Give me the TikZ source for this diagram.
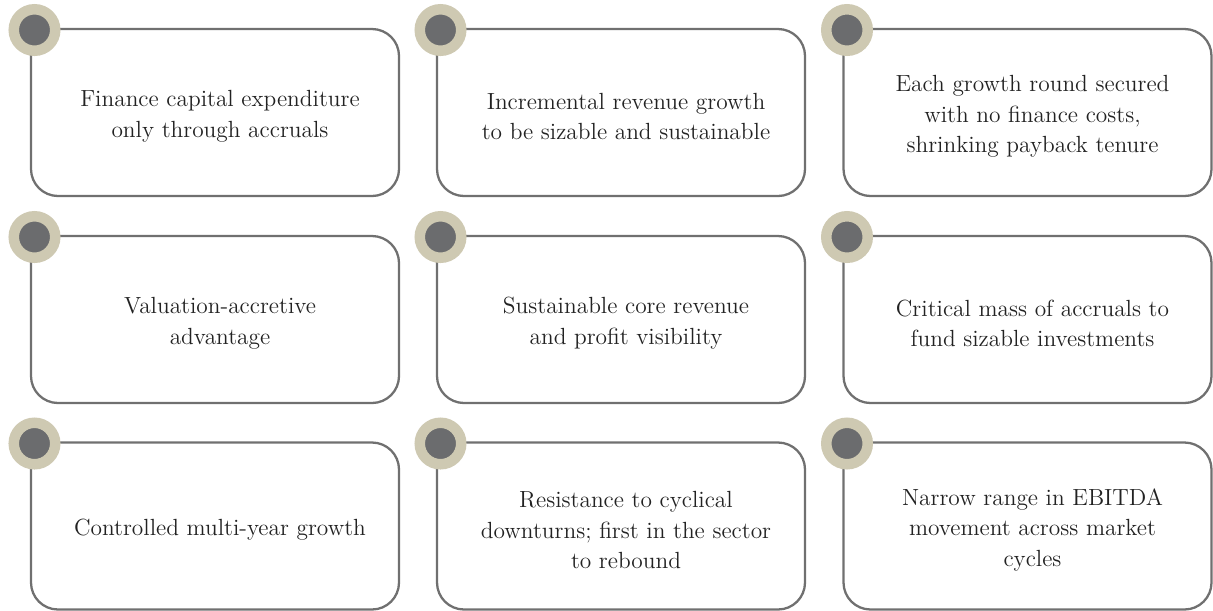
\documentclass[tikz,border=0pt]{standalone}
\usepackage{tikz}
\usetikzlibrary{positioning, calc}
\definecolor{cardedge}{HTML}{707070}
\definecolor{cardbeige}{HTML}{CEC9B2}
\definecolor{carddark}{HTML}{6B6C6E}
\definecolor{cardtext}{HTML}{222222}
\tikzset{
  cardbox/.style={minimum width=7.36cm, minimum height=3.34cm, inner sep=0pt,
    outer sep=0pt, align=center, text=cardtext,
    font=\fontsize{13.3}{17.5}\selectfont},
  cardline/.style={draw=cardedge, line width=1.3pt, rounded corners=0.54cm},
  carddot/.style={circle, fill=carddark, draw=cardbeige, line width=0.21cm,
    minimum size=0.83cm, inner sep=0pt},
}

\begin{document}
\begin{tikzpicture}
  \useasboundingbox (0,0) rectangle (24.26,-12.2);
  % text sits a little right of and below the card centre
  % first row
  \node[cardbox] (c1) at (4.40,-2.33) {Finance capital expenditure\\only through accruals};
  \node[cardbox] (c2) at (12.52,-2.33) {Incremental revenue growth\\to be sizable and sustainable};
  \node[cardbox] (c3) at (20.65,-2.33) {Each growth round secured\\with no finance costs,\\shrinking payback tenure};
  % second row
  \node[cardbox] (c4) at (4.40,-6.47) {Valuation-accretive\\advantage};
  \node[cardbox] (c5) at (12.52,-6.47) {Sustainable core revenue\\and profit visibility};
  \node[cardbox] (c6) at (20.65,-6.47) {Critical mass of accruals to\\fund sizable investments};
  % third row
  \node[cardbox] (c7) at (4.40,-10.60) {Controlled multi-year growth};
  \node[cardbox] (c8) at (12.52,-10.60) {Resistance to cyclical\\downturns; first in the sector\\to rebound};
  \node[cardbox] (c9) at (20.65,-10.60) {Narrow range in EBITDA\\movement across market\\cycles};
  % outlines, square at the top left, and the dots
  \foreach \c in {c1,c2,c3,c4,c5,c6,c7,c8,c9} {
    \draw[cardline] ([shift={(-0.1,0.08)}]\c.north west)
      -- ([shift={(-0.1,0.08)}]\c.north east)
      -- ([shift={(-0.1,0.08)}]\c.south east)
      -- ([shift={(-0.1,0.08)}]\c.south west)
      -- ([shift={(-0.1,0.08)}]\c.north west);
    \node[carddot] (\c-dot) at ([shift={(-0.03,0.06)}]\c.north west) {};
  }
\end{tikzpicture}
\end{document}
